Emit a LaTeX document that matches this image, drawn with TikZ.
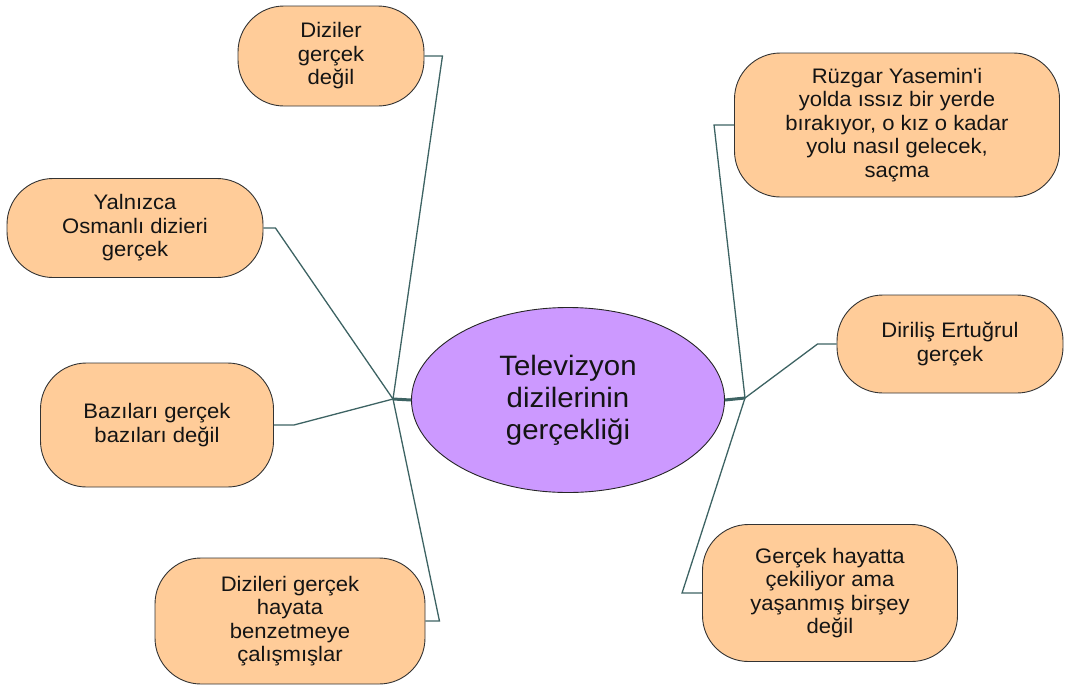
\documentclass[tikz,border=0pt]{standalone}
\usepackage{fontspec}
\newfontfamily\textschrift[FakeStretch=1.05]{Liberation Sans}
\usepackage{tikz}
\usetikzlibrary{shapes.geometric}
\definecolor{orangefill}{RGB}{255,204,153}
\definecolor{lilafill}{RGB}{204,153,255}
\definecolor{linienfarbe}{RGB}{61,99,99}

\begin{document}
\begin{tikzpicture}[x=1pt, y=-1pt,
				blase/.style={draw=black!80, fill=orangefill, rounded corners=46pt, line width=0.9pt,
					align=center, inner sep=0pt, text=black!92, font=\textschrift\fontsize{21}{23.5}\selectfont},
				mitte/.style={ellipse, draw=black!85, fill=lilafill, line width=0.9pt, align=center, text=black!92,
					inner sep=0pt, minimum width=313pt, minimum height=185pt, font=\textschrift\fontsize{28}{32}\selectfont},
				linie/.style={draw=linienfarbe, line width=1.3pt},
				stummel/.style={draw=linienfarbe, line width=3pt}]
				% Bildbereich
				\useasboundingbox (0,0) rectangle (1065,691);
				% Hauptthema
				\node[mitte] (tv) at (568,400) {Televizyon\\dizilerinin\\gerçekliği};
				% Knoten links
				\node[blase, minimum width=186pt, minimum height=100pt] (d1) at (331,56) {Diziler\\gerçek\\değil};
				\node[blase, minimum width=256pt, minimum height=99pt] (d2) at (135,228) {Yalnızca\\Osmanlı dizieri\\gerçek};
				\node[blase, minimum width=233pt, minimum height=124pt] (d3) at (157,425) {Bazıları gerçek\\bazıları değil};
				\node[blase, minimum width=270pt, minimum height=126pt] (d4) at (290,621) {Dizileri gerçek\\hayata\\benzetmeye\\çalışmışlar};
				% Knoten rechts
				\node[blase, minimum width=325pt, minimum height=144pt] (d5) at (897,125) {Rüzgar Yasemin'i\\yolda ıssız bir yerde\\bırakıyor, o kız o kadar\\yolu nasıl gelecek,\\saçma};
				\node[blase, minimum width=226pt, minimum height=98pt] (d6) at (950,344) {Diriliş Ertuğrul\\gerçek};
				\node[blase, minimum width=255pt, minimum height=137pt] (d7) at (830,593) {Gerçek hayatta\\çekiliyor ama\\yaşanmış birşey\\değil};
				% Verzweigungen
				\coordinate (jl) at (393,399);
				\coordinate (jr) at (745,398);
				\draw[stummel] (tv.west) -- (jl);
				\draw[stummel] (tv.east) -- (jr);
				\foreach \n/\dx in {d1/18,d2/12,d3/20,d4/14} \draw[linie] (jl) -- ([xshift=\dx pt]\n.east) -- (\n.east);
				\foreach \n/\dx in {d5/-20,d6/-19,d7/-20} \draw[linie] (jr) -- ([xshift=\dx pt]\n.west) -- (\n.west);
			\end{tikzpicture}
\end{document}
